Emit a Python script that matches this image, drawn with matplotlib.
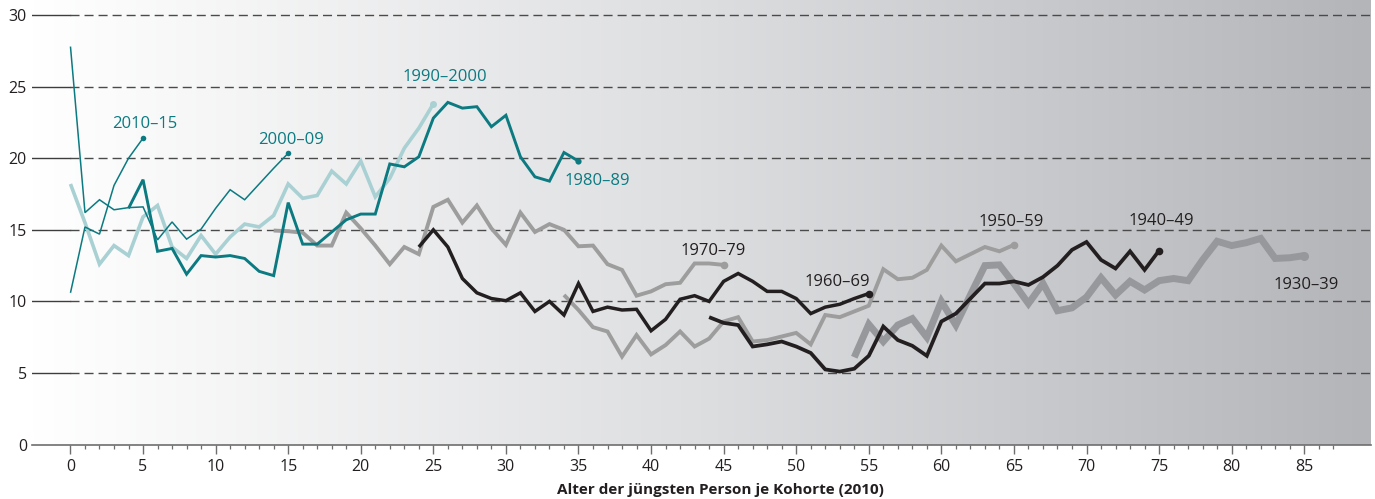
import numpy as np
import matplotlib

matplotlib.use("Agg")
import matplotlib.pyplot as plt
from matplotlib.colors import LinearSegmentedColormap
from matplotlib.ticker import MultipleLocator

plt.rcParams["font.family"] = ["Open Sans", "DejaVu Sans"]
plt.rcParams["lines.scale_dashes"] = False

# cohort series: first age + values read per year of age
c2010_start = 0
c2010 = [10.6, 15.2, 14.7, 18.1, 20.0, 21.4]

c2000_start = 0
c2000 = [27.8, 16.2, 17.1, 16.4, 16.55, 16.6, 14.3, 15.55, 14.35, 15.05,
         16.5, 17.8, 17.1, 18.2, 19.3, 20.35]

c1990_start = 0
c1990 = [18.2, 15.5, 12.6, 13.9, 13.2, 15.9, 16.7, 13.8, 13.0, 14.6,
         13.3, 14.5, 15.4, 15.2, 16.0, 18.2, 17.2, 17.4, 19.1, 18.2,
         19.8, 17.3, 18.6, 20.7, 22.1, 23.8]

c1980_start = 4
c1980 = [16.5, 18.5, 13.5, 13.7, 11.9, 13.2, 13.1, 13.2, 13.0, 12.1,
         11.8, 16.9, 14.0, 14.0, 14.85, 15.7, 16.1, 16.1, 19.6, 19.4,
         20.1, 22.8, 23.9, 23.5, 23.6, 22.2, 23.0, 20.1, 18.7, 18.4,
         20.4, 19.8]

c1970_start = 14
c1970 = [14.95, 14.9, 14.8, 13.9, 13.9, 16.2, 15.1, 13.9, 12.6, 13.8,
         13.3, 16.6, 17.1, 15.5, 16.7, 15.1, 13.95, 16.2, 14.85, 15.4,
         15.0, 13.85, 13.9, 12.6, 12.2, 10.4, 10.7, 11.2, 11.3, 12.65,
         12.65, 12.55]

c1960_start = 24
c1960 = [13.8, 15.0, 13.8, 11.6, 10.6, 10.2, 10.05, 10.6, 9.3, 10.0,
         9.05, 11.25, 9.3, 9.6, 9.4, 9.45, 7.95, 8.75, 10.15, 10.4,
         10.0, 11.4, 11.95, 11.4, 10.7, 10.7, 10.2, 9.15, 9.6, 9.8,
         10.2, 10.55]

c1950_start = 34
c1950 = [10.45, 9.4, 8.2, 7.9, 6.15, 7.65, 6.3, 6.95, 7.9, 6.85,
         7.4, 8.6, 8.9, 7.2, 7.3, 7.55, 7.8, 7.0, 9.05, 8.9,
         9.3, 9.7, 12.25, 11.55, 11.65, 12.2, 13.9, 12.8, 13.3, 13.8,
         13.5, 13.95]

c1940_start = 44
c1940 = [8.9, 8.5, 8.35, 6.85, 7.0, 7.2, 6.85, 6.4, 5.25, 5.1,
         5.3, 6.2, 8.25, 7.3, 6.9, 6.2, 8.6, 9.15, 10.2, 11.25,
         11.25, 11.4, 11.15, 11.7, 12.5, 13.6, 14.15, 12.9, 12.3, 13.5,
         12.2, 13.55]

c1930_start = 54
c1930 = [6.1, 8.4, 7.2, 8.35, 8.8, 7.5, 10.0, 8.35, 10.45, 12.5,
         12.55, 11.25, 9.85, 11.25, 9.35, 9.55, 10.3, 11.65, 10.45, 11.4,
         10.8, 11.45, 11.6, 11.45, 12.9, 14.2, 13.9, 14.1, 14.4, 13.0,
         13.05, 13.2]

labels = ["2010–15", "2000–09", "1990–2000", "1980–89", "1970–79",
          "1960–69", "1950–59", "1940–49", "1930–39"]
label_pos = [(5.1, 22.1), (15.2, 21.0), (25.8, 25.4), (36.3, 18.1), (44.3, 13.25),
             (52.8, 11.05), (64.8, 15.3), (75.15, 15.35), (85.15, 10.85)]

x_ticks = list(range(0, 90, 5))
y_ticks = [0, 5, 10, 15, 20, 25, 30]

TEAL = "#0b7a81"
LTEAL = "#a9d0d3"
GRAY = "#9d9d9d"
DGRAY = "#97989c"
BLACK = "#231f20"

XLO, XHI = -2.65, 89.6
YLO, YHI = 0, 31.05

fig = plt.figure(figsize=(13.75, 4.99), dpi=100)
ax = fig.add_axes([32 / 1375, 1 - 444.6 / 499, (1371 - 32) / 1375, 444.6 / 499])
ax.set_xlim(XLO, XHI)
ax.set_ylim(YLO, YHI)

# background gradient (white -> grey towards right)
grad = np.linspace(0, 1, 512).reshape(1, -1)
cmap = LinearSegmentedColormap.from_list("bg", ["#ffffff", "#dddee0", "#b4b5b9"], N=256)
ax.imshow(grad, extent=(XLO, XHI, YLO, YHI), aspect="auto", cmap=cmap,
          origin="lower", zorder=0, interpolation="bicubic")

# gridlines: solid stub on the left, dashed across the plot
frac0 = (0 - XLO) / (XHI - XLO)
for yv in y_ticks[1:]:
    ax.axhline(yv, xmin=0, xmax=frac0, color="#3d3d3d", lw=1.0, zorder=1)
    ax.axhline(yv, xmin=frac0, xmax=1, color="#4a4a4a", lw=1.0,
               dashes=(6.5, 3.6), zorder=1)

series = [
    (c1930_start, c1930, DGRAY, 5.0, 6.5, 2),
    (c1950_start, c1950, GRAY, 2.8, 5.5, 3),
    (c1970_start, c1970, GRAY, 2.8, 5.5, 3),
    (c1940_start, c1940, BLACK, 2.7, 5.5, 4),
    (c1960_start, c1960, BLACK, 2.5, 5.5, 4),
    (c1990_start, c1990, LTEAL, 2.6, 5.0, 5),
    (c1980_start, c1980, TEAL, 2.1, 4.5, 6),
    (c2000_start, c2000, TEAL, 1.1, 4.0, 7),
    (c2010_start, c2010, TEAL, 1.1, 4.0, 7),
]
for start, vals, col, lw, ms, z in series:
    ages = np.arange(start, start + len(vals))
    ax.plot(ages, vals, color=col, lw=lw, solid_joinstyle="miter",
            solid_capstyle="butt", zorder=z)
    ax.plot(ages[-1], vals[-1], "o", color=col, ms=ms, mec="none", zorder=z)

label_cols = [TEAL, TEAL, TEAL, TEAL, "#231f20", "#231f20", "#231f20", "#231f20", "#231f20"]
for txt, (lx, ly), col in zip(labels, label_pos, label_cols):
    ax.text(lx, ly, txt, color=col, fontsize=12, ha="center", va="baseline", zorder=8)

# axes styling
for side in ("top", "right", "left"):
    ax.spines[side].set_visible(False)
ax.spines["bottom"].set_color("#6e6e6e")
ax.spines["bottom"].set_linewidth(1.2)
ax.spines["bottom"].set_zorder(9)

ax.set_xticks(x_ticks)
ax.set_xticklabels([str(t) for t in x_ticks])
ax.set_xticks([m for m in range(0, 88) if m % 5 != 0], minor=True)
ax.tick_params(axis="x", which="major", length=6.5, width=1.0, color="#6e6e6e",
               direction="out", pad=4, labelsize=11.5, labelcolor="#231f20")
ax.tick_params(axis="x", which="minor", length=3.0, width=0.9, color="#6e6e6e",
               direction="out")

ax.set_yticks(y_ticks)
ax.set_yticklabels([str(t) for t in y_ticks])
ax.tick_params(axis="y", length=0, pad=3.6, labelsize=11.5, labelcolor="#231f20")

fig.text(720 / 1375, 1 - 490 / 499, "Alter der jüngsten Person je Kohorte (2010)",
         ha="center", va="center", fontsize=11, fontweight="bold", color="#231f20")

fig.savefig("out.png", dpi=100)
